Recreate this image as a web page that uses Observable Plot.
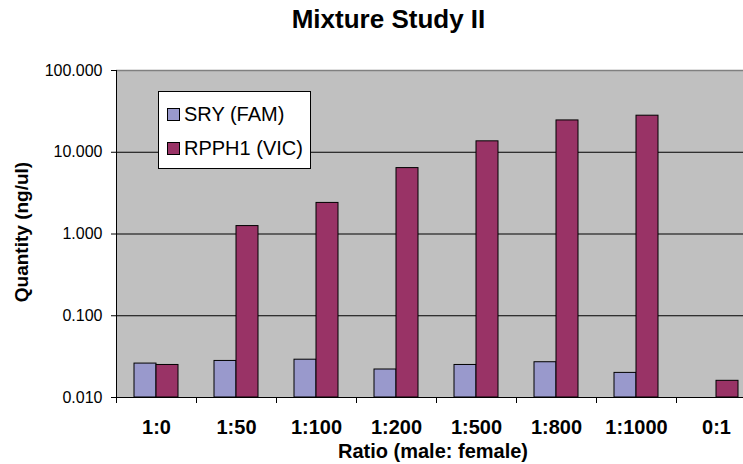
<!DOCTYPE html>
<html>
<head>
<meta charset="utf-8">
<script src="https://cdn.jsdelivr.net/npm/d3@7"></script>
<script src="https://cdn.jsdelivr.net/npm/@observablehq/plot@0.6"></script>
<style>
  html, body { margin: 0; padding: 0; background: #fff; overflow: hidden; }
  #wrap { position: relative; width: 743px; height: 464px; font-family: "Liberation Sans", Arial, sans-serif; }
  #title { position: absolute; left: 34px; right: 0; top: 6px; text-align: center; font-weight: bold; font-size: 26px; line-height: 26px; color: #000; }
  #chart { position: absolute; left: 0; top: 0; }
  #chart svg { max-width: none; }
  #legend { position: absolute; left: 158px; top: 91px; width: 151px; height: 76px; border: 1px solid #000; background: #fff; box-sizing: content-box; }
  .item { position: absolute; left: 8px; display: flex; align-items: center; font-size: 20px; line-height: 20px; color: #000; white-space: nowrap; }
  .sw { width: 11px; height: 11px; border: 1px solid #000; margin-right: 4px; }
</style>
</head>
<body>
<div id="wrap">
  <div id="chart"></div>
  <div id="title"></div>
  <div id="legend"></div>
</div>
<script>
// ---- data ----
const chartTitle = "Mixture Study II";
const categories = ["1:0", "1:50", "1:100", "1:200", "1:500", "1:800", "1:1000", "0:1"];
const seriesNames = ["SRY (FAM)", "RPPH1 (VIC)"];
const sryValues = [0.026, 0.028, 0.029, 0.022, 0.025, 0.027, 0.020, null];
const rpph1Values = [0.025, 1.25, 2.4, 6.4, 13.6, 24.5, 28, 0.016];
const yTickValues = [0.01, 0.1, 1, 10, 100];
const xTitle = "Ratio (male: female)";
const yTitle = "Quantity (ng/ul)";

// ---- styles / layout ----
const seriesColors = ["#9999CC", "#993366"];
const groupWidth = 0.55; // fraction of category band used by the bar pair
const barWidth = groupWidth / seriesNames.length;
const groupStart = (1 - groupWidth) / 2;

const valuesBySeries = [sryValues, rpph1Values];
const rows = [];
categories.forEach((c, i) => {
  seriesNames.forEach((s, k) => {
    const v = valuesBySeries[k][i];
    if (v != null) rows.push({ cat: c, i, k, series: s, value: v });
  });
});

const plot = Plot.plot({
  width: 743,
  height: 464,
  marginTop: 70,
  marginBottom: 67,
  marginLeft: 116,
  marginRight: 0,
  style: { fontFamily: "'Liberation Sans', Arial, sans-serif", background: "transparent", color: "#000" },
  x: { type: "linear", domain: [0, categories.length], range: [116, 116 + 80 * categories.length] },
  y: { type: "log", domain: [0.01, 100] },
  color: { domain: seriesNames, range: seriesColors },
  marks: [
    Plot.frame({ fill: "#C0C0C0", stroke: null }),
    Plot.ruleY([yTickValues[yTickValues.length - 1]], { stroke: "#808080", strokeWidth: 1.5 }),
    Plot.ruleY(yTickValues.slice(1, -1), { stroke: "#000", strokeWidth: 1 }),
    Plot.rectY(rows, {
      x1: d => d.i + groupStart + d.k * barWidth,
      x2: d => d.i + groupStart + (d.k + 1) * barWidth,
      y1: yTickValues[0],
      y2: "value",
      fill: "series",
      stroke: "#000",
      strokeWidth: 1
    }),
    Plot.ruleX([0], { stroke: "#000", strokeWidth: 1 }),
    Plot.ruleY([yTickValues[0]], { stroke: "#000", strokeWidth: 1 }),
    Plot.axisY({
      ticks: yTickValues,
      tickFormat: d3.format(".3f"),
      tickSize: 5,
      tickPadding: 9,
      fontSize: 16,
      label: null
    }),
    Plot.axisX({
      ticks: d3.range(0, categories.length + 1),
      tickFormat: () => "",
      tickSize: 6,
      label: null
    }),
    Plot.axisX({
      ticks: categories.map((c, i) => i + 0.5),
      tickFormat: d => categories[Math.floor(d)],
      tickSize: 0,
      tickPadding: 22,
      fontSize: 20,
      fontWeight: "bold",
      label: null
    }),
    Plot.text([xTitle], { frameAnchor: "bottom", textAnchor: "middle", lineAnchor: "middle", dx: 3, dy: 54, fontSize: 20, fontWeight: "bold", fill: "#000" }),
    Plot.text([yTitle], { frameAnchor: "left", textAnchor: "middle", lineAnchor: "middle", rotate: -90, dx: -95, dy: -2, fontSize: 19, fontWeight: "bold", fill: "#000" })
  ]
});
document.getElementById("chart").appendChild(plot);
document.getElementById("title").textContent = chartTitle;

// legend
const legend = document.getElementById("legend");
const legendTops = [12, 46];
seriesNames.forEach((s, k) => {
  const item = document.createElement("div");
  item.className = "item";
  item.style.top = legendTops[k] + "px";
  const sw = document.createElement("div");
  sw.className = "sw";
  sw.style.background = seriesColors[k];
  const label = document.createElement("span");
  label.textContent = s;
  item.appendChild(sw);
  item.appendChild(label);
  legend.appendChild(item);
});
</script>
</body>
</html>
